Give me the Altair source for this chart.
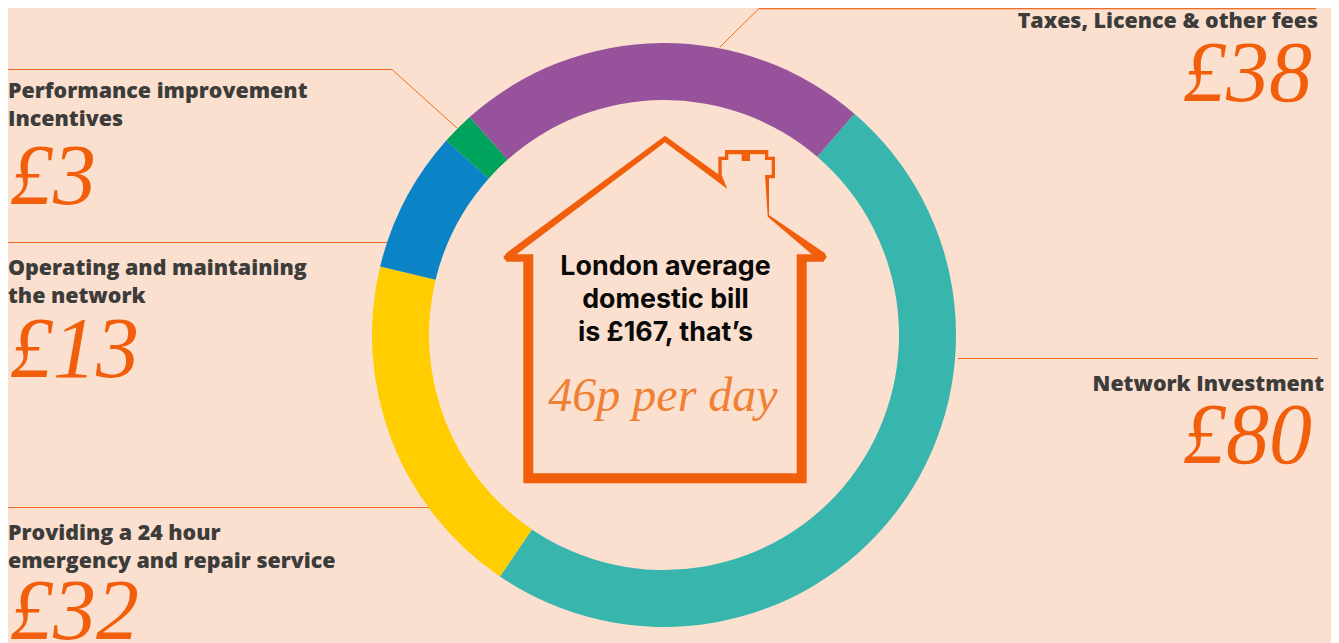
import math
import altair as alt
import pandas as pd

# ---- data ----
categories = ["Network Investment",
              "Providing a 24 hour emergency and repair service",
              "Operating and maintaining the network",
              "Performance improvement Incentives",
              "Taxes, Licence & other fees"]
values = [80, 32, 13, 3, 38]
order = [0, 1, 2, 3, 4]
colors = ["#38B6AD", "#FFCD00", "#0A84C6", "#00A35C", "#96529B"]

center_lines = ["London average", "domestic bill", "is £167, that’s"]
per_day = "46p per day"

BG = "#FCE0CF"
ORANGE = "#F15F0D"
DARK = "#3C3C3B"
OFF = 8  # page margin: reference positions below are page pixels

def X(v): return alt.value(v - OFF)
def Y(v): return alt.value(v - OFF)

W, H = 1323, 635
start = math.radians(40.7)
df = pd.DataFrame({"cat": categories, "value": values, "order": order})

ring = alt.Chart(df).mark_arc(radius=292, radius2=235, stroke=None).encode(
    theta=alt.Theta("value:Q", stack=True,
                    scale=alt.Scale(domain=[0, sum(values)], range=[start, start + 2 * math.pi])),
    order=alt.Order("order:Q"),
    color=alt.Color("cat:N", scale=alt.Scale(domain=categories, range=colors), legend=None),
    x=X(664), y=Y(335),
)

def seg(x1, y1, x2, y2, w=1):
    return alt.Chart().mark_rule(color=ORANGE, strokeWidth=w, opacity=0.9).encode(
        x=X(x1), x2=X(x2), y=Y(y1), y2=Y(y2))

leaders = [
    seg(759, 8.5, 1316, 8.5, 1.5), seg(759, 8.5, 720, 47),
    seg(958, 358.5, 1318, 358.5),
    seg(8, 69.5, 392, 69.5), seg(392, 69.5, 457, 128),
    seg(8, 242.5, 387, 242.5),
    seg(8, 507.5, 429, 507.5),
]

def txt(s, x, y, size, font, color, align="left", weight=400, style="normal", opacity=1):
    return alt.Chart().mark_text(text=s, font=font, fontSize=size, color=color, align=align,
                                 baseline="middle", fontWeight=weight, fontStyle=style,
                                 opacity=opacity).encode(x=X(x), y=Y(y))

def label(s, x, y, align="left"):
    return txt(s, x, y, 21.4, "Open Sans", DARK, align, 800)

def amount(s, x, y, align="left", size=86):
    return txt(s, x, y, size, "Liberation Serif", ORANGE, align, 400, "italic")

texts = [
    label("Performance improvement", 8, 92), label("Incentives", 8, 120),
    label("Operating and maintaining", 8, 269), label("the network", 8, 297),
    label("Providing a 24 hour", 8, 534), label("emergency and repair service", 8, 562),
    label("Taxes, Licence & other fees", 1318, 22, "right"),
    label("Network Investment", 1324, 385, "right"),
    amount("£3", 10, 178), amount("£13", 10, 351), amount("£32", 10, 613),
    amount("£38", 1312, 75, "right"), amount("£80", 1312, 437, "right"),
    txt(center_lines[0], 665.5, 267, 26.8, "Inter", "#0A0A0A", "center", 700),
    txt(center_lines[1], 665.5, 300, 26.8, "Inter", "#0A0A0A", "center", 700),
    txt(center_lines[2], 665.5, 333, 26.8, "Inter", "#0A0A0A", "center", 700),
    txt(per_day, 663, 397, 48, "Liberation Serif", "#F08034", "center", 400, "italic"),
]

# house outline (zoom-crop coordinates)
outer = [(525, 32), (685, 148), (685, 95), (705, 95), (705, 75), (835, 75), (835, 95), (855, 95),
         (855, 160), (837, 160), (837, 270), (1005, 385), (1010, 397), (1000, 410), (950, 410),
         (950, 1075), (100, 1075), (100, 410), (50, 410), (40, 397), (50, 383)]
inner = [(525, 52), (80, 388), (130, 388), (130, 1045), (920, 1045), (920, 388), (965, 388),
         (833, 275), (825, 150), (845, 150), (845, 105), (825, 105), (825, 88), (780, 88),
         (780, 108), (755, 108), (755, 88), (715, 88), (715, 105), (695, 105), (695, 150), (712, 192)]

def to_path(pts):
    coords = [f"{x / 3 + 490 - OFF:.1f},{y / 3 + 125 - OFF:.1f}" for x, y in pts]
    return "M" + " L".join(coords) + " Z"

house = alt.Chart().mark_point(shape=to_path(outer) + " " + to_path(inner), size=4, filled=True,
                               color=ORANGE, opacity=1, strokeWidth=0).encode(
    x=alt.value(0), y=alt.value(0))

chart = alt.layer(ring, *leaders, house, *texts).properties(
    width=W, height=H, background=BG, padding=0,
    autosize=alt.AutoSizeParams(type="none"),
).configure_view(stroke=None)

chart.save("out.html", embed_options={"renderer": "svg", "actions": False})
